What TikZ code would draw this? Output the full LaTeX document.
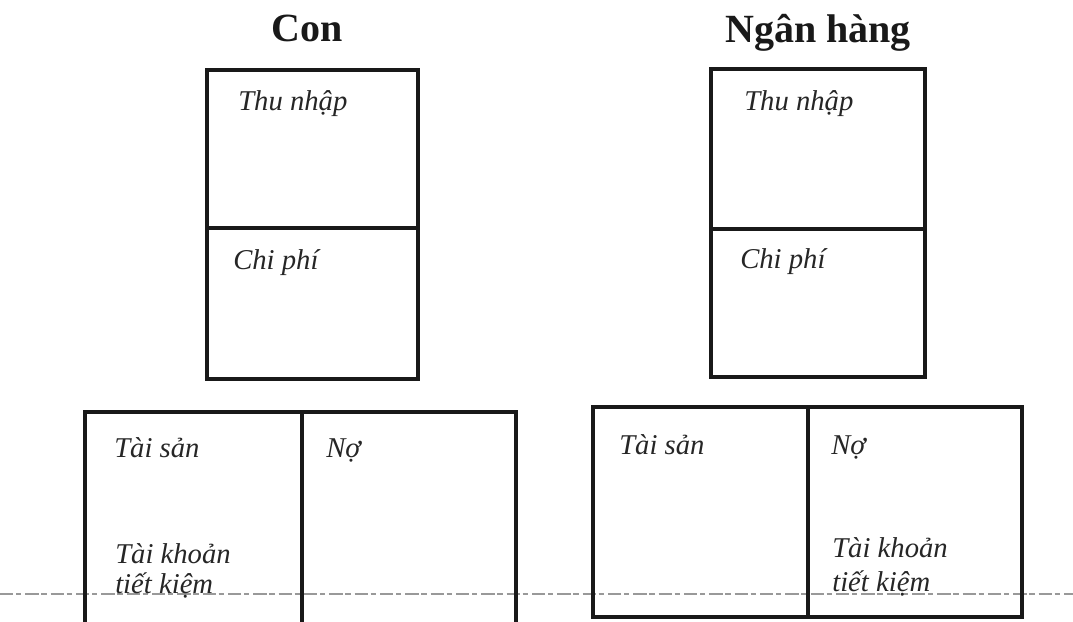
\documentclass[tikz,border=0pt]{standalone}
\usepackage{fontspec}
\setmainfont{Liberation Serif}
\begin{document}
\begin{tikzpicture}[x=0.75pt,y=-0.75pt,
  box/.style={draw=black!90,line width=2.6pt},
  lbl/.style={anchor=base west,inner sep=0pt,font=\itshape\fontsize{21.5}{25}\selectfont,text=black!85},
  ttl/.style={anchor=base,inner sep=0pt,font=\bfseries\fontsize{30}{34}\selectfont,text=black!90},
  scanline/.style={draw=black!40,line width=0.8pt,dash pattern=on 10pt off 2pt on 4pt off 3pt}]
\useasboundingbox (0,0) rectangle (1073,621);
\clip (0,0) rectangle (1073,621);
\fill[white] (0,0) rectangle (1073,621);
% scan line
\coordinate (sl) at (0,594);
\coordinate (sr) at (1073,594);
\draw[scanline] (sl) -- (sr);
% titles
\node[ttl] (tcon) at (307,41) {Con};
\node[ttl] (tbank) at (818,42) {Ngân hàng};
% top left
\draw[box] (207,70) rectangle (418,379);
\draw[box] (207,228) -- (418,228);
\node[lbl] (l1) at (238,110) {Thu nhập};
\node[lbl] (l2) at (233,269) {Chi phí};
% top right
\draw[box] (711,69) rectangle (925,377);
\draw[box] (711,229) -- (925,229);
\node[lbl] (r1) at (744,110) {Thu nhập};
\node[lbl] (r2) at (740,268) {Chi phí};
% bottom left
\draw[box] (85,412) rectangle (516,630);
\draw[box] (302,412) -- (302,630);
\node[lbl] (b1) at (114,457) {Tài sản};
\node[lbl] (b2) at (326,457) {Nợ};
\node[lbl] (b3) at (115,563) {Tài khoản};
\node[lbl] (b4) at (115,593) {tiết kiệm};
% bottom right
\draw[box] (593,407) rectangle (1022,617);
\draw[box] (808,407) -- (808,617);
\node[lbl] (c1) at (619,454) {Tài sản};
\node[lbl] (c2) at (831,454) {Nợ};
\node[lbl] (c3) at (832,557) {Tài khoản};
\node[lbl] (c4) at (832,591) {tiết kiệm};
\end{tikzpicture}
\end{document}
